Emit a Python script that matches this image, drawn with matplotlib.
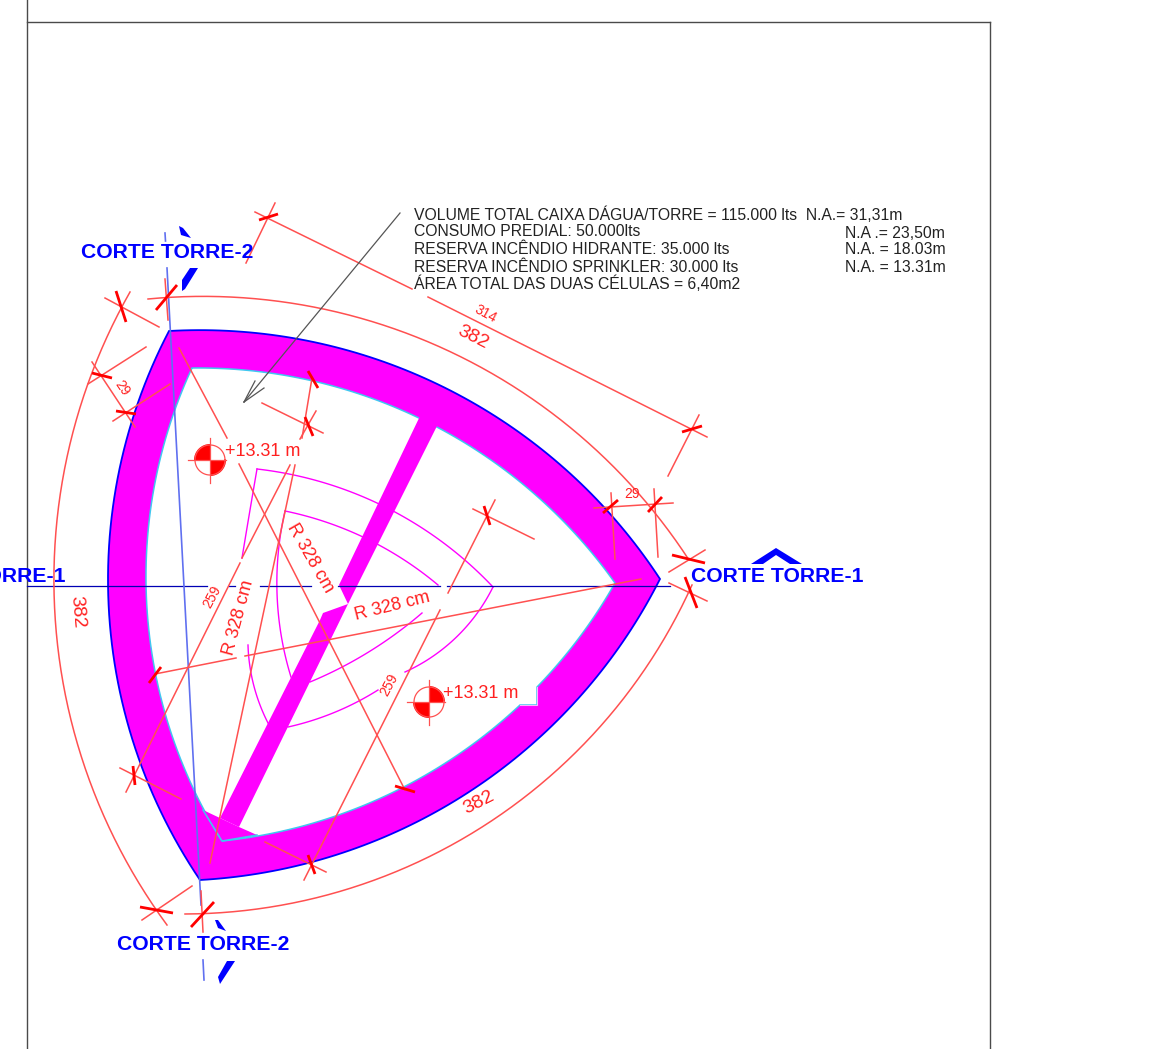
import numpy as np
import matplotlib
matplotlib.use("Agg")
import matplotlib.pyplot as plt
from matplotlib.patches import Polygon, Wedge

W, H = 1169, 1049
plt.rcParams['font.family'] = ['Liberation Sans', 'DejaVu Sans']

# --- geometry (pixel frame) ---
A, B, C = (169, 331), (660, 579), (200, 880)
left_outer_mid, left_inner_mid = (108, 582), (146, 582)
A_in, B_in, C_in = (192, 368), (615, 583), (222, 841)
notch = [(537, 687), (537, 705), (520, 705)]
band_top = [(421, 414), (439, 422), (348, 604), (339, 585)]
band_low = [(348, 604), (239, 827), (220, 818), (320, 620), (323, 613)]
corner = [(203, 810), (239, 827), (257, 835), (222, 841)]

frame = [[(27, 0), (27, 1049)], [(27, 22), (990, 22)], [(990, 22), (990, 1049)]]
axis_y = [(27, 207), (229, 235), (260, 311), (338, 440), (447, 670)]
section = [[(165, 233), (165.5, 241)], [(167, 268), (201, 905)], [(203, 960), (204, 980)]]

thin_red = [
    [(255, 212), (412, 289)], [(428, 297), (707, 437)], [(275, 203), (246, 263)],
    [(699, 415), (668, 476)],
    [(105, 298), (159, 327)], [(142, 920), (192, 886)], [(88, 384), (146, 347)],
    [(113, 421), (170, 384)], [(92, 362), (135, 427)], [(594, 508), (673, 503)],
    [(611, 493), (615, 559)], [(654, 489), (658, 557)], [(669, 572), (705, 550)],
    [(669, 583), (707, 601)], [(201, 891), (203, 932)], [(165, 279), (168, 320)],
    [(179, 348), (227, 438)], [(239, 464), (405, 790)],
    [(290, 465), (242, 558)], [(240, 563), (126, 792)],
    [(295, 465), (210, 863)], [(312, 378), (302, 438)], [(316, 411), (300, 439)],
    [(495, 500), (448, 593)], [(440, 610), (304, 880)],
    [(155, 674), (236, 658)], [(245, 656), (641, 579)],
    [(120, 768), (181, 799)], [(265, 842), (326, 872)],
    [(473, 509), (534, 539)], [(262, 403), (323, 433)],
]
thick_red = [
    [(259, 220), (278, 214)], [(682, 432), (702, 426)], [(116, 291), (126, 322)],
    [(140, 907), (173, 913)], [(92, 373), (112, 378)], [(116, 411), (136, 414)],
    [(603, 513), (618, 500)], [(648, 512), (662, 497)], [(672, 555), (705, 563)],
    [(685, 577), (697, 608)], [(191, 927), (214, 902)], [(156, 310), (177, 285)],
    [(308, 371), (318, 388)], [(305, 417), (313, 436)], [(133, 766), (135, 785)],
    [(308, 855), (315, 874)], [(484, 506), (490, 525)], [(395, 786), (415, 792)],
    [(149, 683), (161, 667)],
]
dim_arcs = [
    [(148, 299), (440, 347), (689, 560)],
    [(130, 292), (54, 590), (167, 925)],
    [(185, 914), (400, 870), (692, 585)],
]
mag_arcs = [
    [(257, 469), (377, 503), (493, 587)], [(493, 587), (450, 643), (405, 672)],
    [(257, 469), (250, 510), (242, 558)], [(285, 511), (363, 537), (438, 585)],
    [(285, 511), (277, 573), (291, 677)], [(248, 645), (255, 690), (268, 723)],
    [(310, 682), (367, 653), (422, 613)], [(288, 727), (333, 713), (378, 690)],
]
leader = [(400, 213), (244, 402)]
leader_head = [[(255, 381), (244, 402)], [(264, 388), (244, 402)]]
levels = [((210, 460), (180, 270, 0, 90)), ((429, 702), (270, 360, 90, 180))]
blue_marks = [
    [(179, 226), (183, 228), (191, 238), (181, 235)],
    [(190, 268), (198, 268), (185, 289), (182, 291), (182, 280)],
    [(215, 920), (218, 920), (226, 931), (218, 928)],
    [(227, 961), (235, 961), (220, 984), (218, 977)],
    [(751, 564), (776, 548), (802, 564), (790, 564), (776, 555), (763, 564)],
]
notes = [
    (414, 215, "VOLUME TOTAL CAIXA DÁGUA/TORRE = 115.000 lts  N.A.= 31,31m"),
    (414, 232, "CONSUMO PREDIAL: 50.000lts"),
    (845, 233, "N.A .= 23,50m"),
    (414, 249, "RESERVA INCÊNDIO HIDRANTE: 35.000 lts"),
    (845, 250, "N.A. = 18.03m"),
    (414, 267, "RESERVA INCÊNDIO SPRINKLER: 30.000 lts"),
    (845, 267, "N.A. = 13.31m"),
    (414, 284, "ÁREA TOTAL DAS DUAS CÉLULAS = 6,40m2"),
]
red_labels = [
    (473, 337, "382", -27, 14), (479, 803, "382", 27, 14), (77, 612, "382", -85, 14),
    (485, 314, "314", -28, 10), (122, 388, "29", -55, 10), (632, 494, "29", 0, 10),
    (212, 597, "259", 62, 10), (389, 685, "259", 62, 10),
    (310, 558, "R 328 cm", -60, 13), (392, 606, "R 328 cm", 14, 13), (239, 618, "R 328 cm", 75, 13),
    (263, 451, "+13.31 m", 0, 13), (481, 693, "+13.31 m", 0, 13),
]
section_labels = [
    (167, 252, "CORTE TORRE-2"), (203, 944, "CORTE TORRE-2"),
    (777, 577, "CORTE TORRE-1"), (-21, 577, "CORTE TORRE-1"),
]

RED, SOFT = '#ff0000', '#ff5050'
MAG, BLUE, CYAN = '#ff00ff', '#0000ff', '#40c8f0'


def arc(center, p, q, n=80):
    c = np.array(center, float)
    p, q = np.array(p, float) - c, np.array(q, float) - c
    a0, a1 = np.arctan2(p[1], p[0]), np.arctan2(q[1], q[0])
    d = (a1 - a0 + np.pi) % (2 * np.pi) - np.pi
    t = np.linspace(0, 1, n)
    r = np.hypot(*p) * (1 - t) + np.hypot(*q) * t
    return np.column_stack((c[0] + r * np.cos(a0 + d * t), c[1] + r * np.sin(a0 + d * t)))


def arc3(p, m, q, n=60):
    (ax1, ay), (bx, by), (cx, cy) = p, m, q
    d = 2 * (ax1 * (by - cy) + bx * (cy - ay) + cx * (ay - by))
    ux = ((ax1**2 + ay**2) * (by - cy) + (bx**2 + by**2) * (cy - ay) + (cx**2 + cy**2) * (ay - by)) / d
    uy = ((ax1**2 + ay**2) * (cx - bx) + (bx**2 + by**2) * (ax1 - cx) + (cx**2 + cy**2) * (bx - ax1)) / d
    return arc((ux, uy), p, q, n)


fig = plt.figure(figsize=(W / 100, H / 100), dpi=100)
ax = fig.add_axes([0, 0, 1, 1])
ax.set_xlim(0, W)
ax.set_ylim(H, 0)
ax.axis('off')

for s in frame:
    ax.plot(*zip(*s), color='#4a4a4a', lw=1, zorder=1)

outer = np.vstack((arc(C, A, B), arc(A, B, C), arc3(C, left_outer_mid, A)))
ax.add_patch(Polygon(outer, closed=True, fc=MAG, ec=BLUE, lw=1.3, zorder=2))
inner = np.vstack((arc(C, A_in, B_in), arc(A, B_in, notch[0]), notch[1:],
                   arc(A, notch[2], C_in), arc3(C_in, left_inner_mid, A_in)))
ax.add_patch(Polygon(inner, closed=True, fc='white', ec=CYAN, lw=1.1, zorder=3))
for poly in (band_top, band_low, corner):
    ax.add_patch(Polygon(poly, closed=True, fc=MAG, ec='none', zorder=4))
ax.plot(*zip(corner[0], corner[3], corner[2]), color=CYAN, lw=1.1, zorder=5)
ax.plot(*zip(notch[0], notch[1], notch[2]), color='#ffb0ff', lw=0.8, zorder=5)

for pts in mag_arcs:
    ax.plot(*arc3(*pts).T, color=MAG, lw=1, zorder=5)

for a in axis_y:
    ax.plot(a, (585.5, 585.5), color='#0000b4', lw=0.9, zorder=6)
for s in section:
    ax.plot(*zip(*s), color='#6070f0', lw=1.2, zorder=6)

for pts in dim_arcs:
    ax.plot(*arc3(*pts, 160).T, color=SOFT, lw=1.1, zorder=7)
for s in thin_red:
    ax.plot(*zip(*s), color=SOFT, lw=1.1, zorder=7)
for s in thick_red:
    ax.plot(*zip(*s), color=RED, lw=2, zorder=8, solid_capstyle='butt')

ax.plot(*zip(*leader), color='#555555', lw=0.9, zorder=8)
for s in leader_head:
    ax.plot(*zip(*s), color='#555555', lw=0.9, zorder=8)

for (cx, cy), (a0, a1, a2, a3) in levels:
    ax.add_patch(Wedge((cx, cy), 16, a0, a1, fc=RED, ec='none', zorder=8))
    ax.add_patch(Wedge((cx, cy), 16, a2, a3, fc=RED, ec='none', zorder=8))
    th = np.linspace(0, 2 * np.pi, 80)
    ax.plot(cx + 15 * np.cos(th), cy + 15 * np.sin(th), color=SOFT, lw=0.9, zorder=8)
    ax.plot((cx - 22, cx + 16), (cy, cy), color=SOFT, lw=0.9, zorder=8)
    ax.plot((cx, cx), (cy - 22, cy + 23), color=SOFT, lw=0.9, zorder=8)

for poly in blue_marks:
    ax.add_patch(Polygon(poly, closed=True, fc=BLUE, ec='none', zorder=9))

for x, y, s in notes:
    ax.text(x, y, s, fontsize=11.3, color='#222222', ha='left', va='center', zorder=10)
for x, y, s, rot, fs in red_labels:
    ax.text(x, y, s, fontsize=fs, color='#ff2020', rotation=rot, rotation_mode='anchor',
            ha='center', va='center', zorder=10)
for x, y, s in section_labels:
    ax.text(x, y, s, fontsize=15.25, fontweight='bold', color=BLUE, ha='center', va='center',
            zorder=11, clip_on=True)

fig.savefig('out.png', dpi=100, facecolor='white')
